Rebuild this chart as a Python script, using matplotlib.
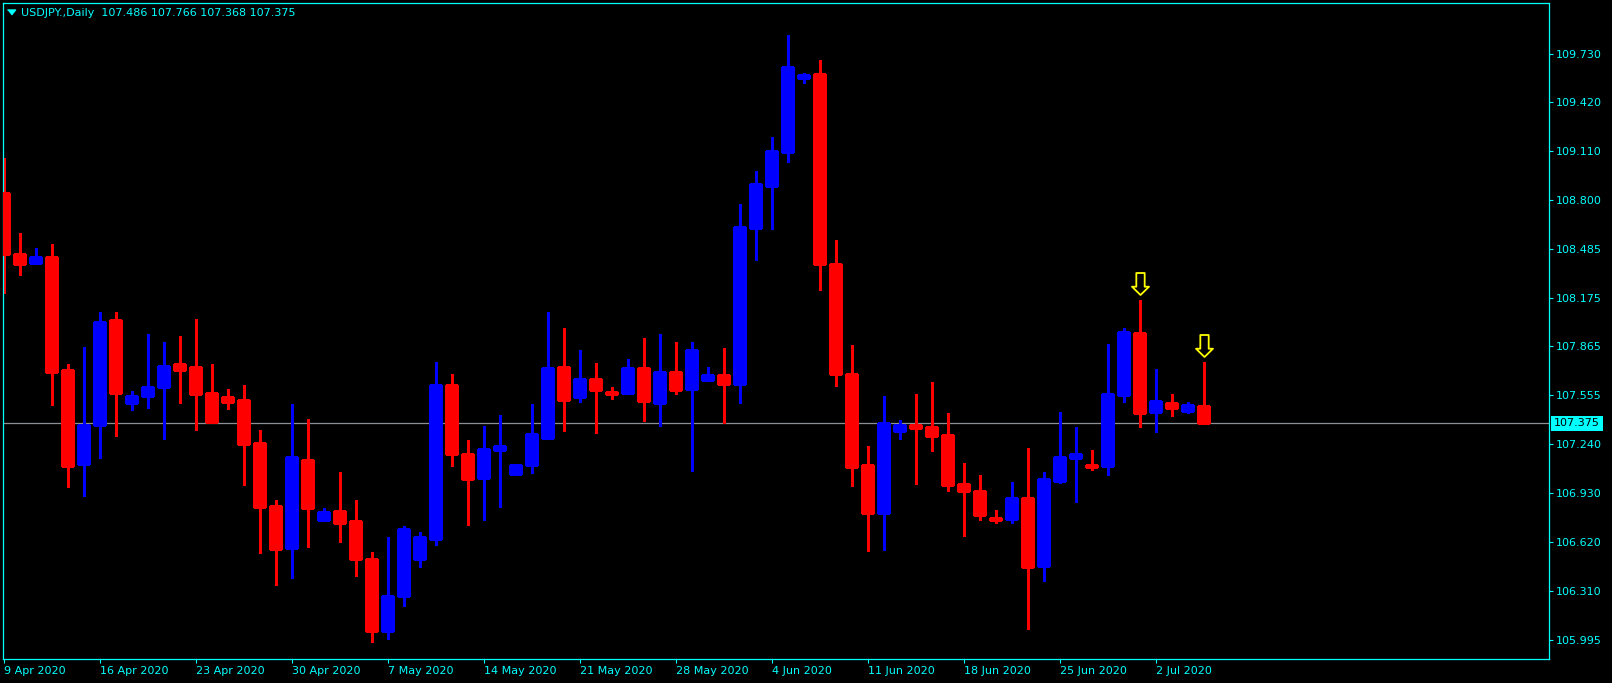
import numpy as np
import matplotlib.pyplot as plt
from matplotlib.path import Path

# USDJPY daily bars, 9 Apr 2020 - 6 Jul 2020 (broker has sunday bars)
opens = [108.840, 108.453, 108.396, 108.434, 107.714, 107.118, 107.364, 108.033, 107.504, 107.551,
         107.606, 107.753, 107.734, 107.568, 107.543, 107.523, 107.250, 106.848, 106.583, 107.141,
         106.761, 106.816, 106.753, 106.511, 106.050, 106.277, 106.513, 106.640, 107.619, 107.179,
         107.029, 107.207, 107.054, 107.109, 107.283, 107.734, 107.543, 107.657, 107.574, 107.568,
         107.727, 107.504, 107.702, 107.593, 107.653, 107.683, 107.627, 108.621, 108.888, 109.105,
         109.576, 109.600, 108.390, 107.689, 107.109, 106.804, 107.326, 107.364, 107.351, 107.300,
         106.988, 106.944, 106.774, 106.765, 106.901, 106.468, 107.009, 107.156, 107.109, 107.105,
         107.555, 107.950, 107.449, 107.504, 107.453, 107.486]
highs = [109.063, 108.585, 108.492, 108.517, 107.753, 107.861, 108.084, 108.084, 107.581, 107.944,
         107.893, 107.931, 108.039, 107.753, 107.593, 107.619, 107.332, 106.886, 107.498, 107.402,
         106.836, 107.065, 106.886, 106.555, 106.651, 106.721, 106.683, 107.765, 107.689, 107.269,
         107.358, 107.428, 107.116, 107.498, 108.084, 107.982, 107.842, 107.759, 107.606, 107.785,
         107.918, 107.944, 107.893, 107.893, 107.734, 107.855, 108.772, 108.982, 109.199, 109.848,
         109.606, 109.689, 108.543, 107.872, 107.230, 107.549, 107.396, 107.562, 107.638, 107.441,
         107.122, 107.046, 106.823, 107.001, 107.218, 107.065, 107.447, 107.351, 107.205, 107.880,
         107.982, 108.160, 107.721, 107.562, 107.511, 107.766]
lows = [108.203, 108.321, 108.392, 107.492, 106.971, 106.914, 107.156, 107.296, 107.462, 107.474,
        107.277, 107.506, 107.334, 107.375, 107.468, 106.984, 106.551, 106.347, 106.392, 106.589,
        106.761, 106.621, 106.404, 105.979, 105.998, 106.213, 106.462, 106.600, 107.105, 106.729,
        106.761, 106.844, 107.054, 107.060, 107.283, 107.326, 107.513, 107.313, 107.530, 107.562,
        107.390, 107.360, 107.562, 107.071, 107.644, 107.375, 107.504, 108.417, 108.613, 109.041,
        109.543, 108.224, 107.614, 106.978, 106.564, 106.570, 107.275, 106.990, 107.200, 106.946,
        106.659, 106.761, 106.742, 106.740, 106.065, 106.371, 106.995, 106.876, 107.078, 107.046,
        107.513, 107.353, 107.321, 107.423, 107.441, 107.368]
closes = [108.453, 108.392, 108.434, 107.704, 107.105, 107.364, 108.020, 107.570, 107.549, 107.606,
          107.740, 107.714, 107.564, 107.385, 107.513, 107.245, 106.844, 106.576, 107.160, 106.837,
          106.810, 106.740, 106.513, 106.054, 106.275, 106.702, 106.651, 107.619, 107.181, 107.022,
          107.211, 107.230, 107.109, 107.307, 107.727, 107.525, 107.657, 107.589, 107.562, 107.727,
          107.517, 107.702, 107.589, 107.842, 107.683, 107.627, 108.625, 108.899, 109.109, 109.644,
          109.593, 108.392, 107.691, 107.097, 106.804, 107.377, 107.364, 107.347, 107.296, 106.982,
          106.946, 106.791, 106.761, 106.901, 106.460, 107.020, 107.160, 107.181, 107.097, 107.562,
          107.957, 107.441, 107.517, 107.474, 107.492, 107.375]

date_labels = ['9 Apr 2020', '16 Apr 2020', '23 Apr 2020', '30 Apr 2020', '7 May 2020', '14 May 2020',
               '21 May 2020', '28 May 2020', '4 Jun 2020', '11 Jun 2020', '18 Jun 2020', '25 Jun 2020',
               '2 Jul 2020']
date_bars = [0, 6, 12, 18, 24, 30, 36, 42, 48, 54, 60, 66, 72]

price_ticks = [109.730, 109.420, 109.110, 108.800, 108.485, 108.175, 107.865, 107.555,
               107.240, 106.930, 106.620, 106.310, 105.995]

signal_bars = [71, 75]  # yellow down arrows
symbol = 'USDJPY.,Daily'

bull = '#0000ff'
bear = '#ff0000'
axcol = '#00ffff'

opens = np.array(opens)
highs = np.array(highs)
lows = np.array(lows)
closes = np.array(closes)
x = np.arange(len(opens))
cols = np.where(closes >= opens, bull, bear)

plt.rcParams['font.family'] = ['DejaVu Sans']

fig = plt.figure(figsize=(16.12, 6.83), dpi=100, facecolor='black')
ax = fig.add_axes([2.5 / 1612, 24 / 683, 1546 / 1612, 656.5 / 683])
ax.set_facecolor('black')

# wicks then bodies
ax.vlines(x, lows, highs, colors=cols, linewidth=0.8, antialiased=False, zorder=2)
bot = np.minimum(opens, closes)
hgt = np.abs(closes - opens)
ax.bar(x, hgt, bottom=bot, width=0.63, color=cols, edgecolor=cols, linewidth=0.75,
       antialiased=False, zorder=3)

# bid line + price box
last = closes[-1]
ax.axhline(last, color='#8c9096', linewidth=0.9, zorder=1)
ax.annotate('%.3f' % last, xy=(1.0, last), xycoords=('axes fraction', 'data'),
            xytext=(5.5, 0), textcoords='offset pixels', ha='left', va='center',
            fontsize=8, color='black', annotation_clip=False,
            bbox=dict(boxstyle='square,pad=0.25', fc=axcol, ec=axcol, lw=0))

# signal arrows (hollow, pointing down, tip just above the high)
arrow = Path([(-0.19, 1.25), (0.19, 1.25), (0.19, 0.627), (0.386, 0.627), (0.0, 0.25),
              (-0.386, 0.627), (-0.19, 0.627), (-0.19, 1.25)], closed=True)
for b in signal_bars:
    ax.plot(b, highs[b], marker=arrow, markersize=39.6, markerfacecolor='none',
            markeredgecolor='#ffff00', markeredgewidth=1.3, linestyle='none', zorder=4)

ax.set_xlim(-0.0625, 96.5625)
ax.set_ylim(105.8737, 110.0553)

for s in ax.spines.values():
    s.set_color(axcol)
    s.set_linewidth(0.9)

ax.yaxis.tick_right()
ax.set_yticks(price_ticks)
ax.set_yticklabels(['%.3f' % v for v in price_ticks])
ax.tick_params(axis='y', colors=axcol, labelcolor=axcol, length=3, width=0.8, pad=2.6, labelsize=8)

ax.set_xticks(date_bars)
ax.set_xticklabels(date_labels, ha='left')
ax.tick_params(axis='x', colors=axcol, labelcolor=axcol, length=3, width=0.8, pad=2.4, labelsize=8)

# header at top left
ax.plot(0.00537, 0.98477, marker=[(-4, 2.5), (4, 2.5), (0, -2.5)], markersize=5.8,
        color=axcol, transform=ax.transAxes, clip_on=False, zorder=5)
fig.text(21 / 1612, 1 - 16.5 / 683, symbol + '  ' + ' '.join('%.3f' % v for v in
         [opens[-1], highs[-1], lows[-1], closes[-1]]),
         color=axcol, fontsize=8, va='baseline', ha='left')

fig.savefig('out.png', dpi=100, facecolor='black')
